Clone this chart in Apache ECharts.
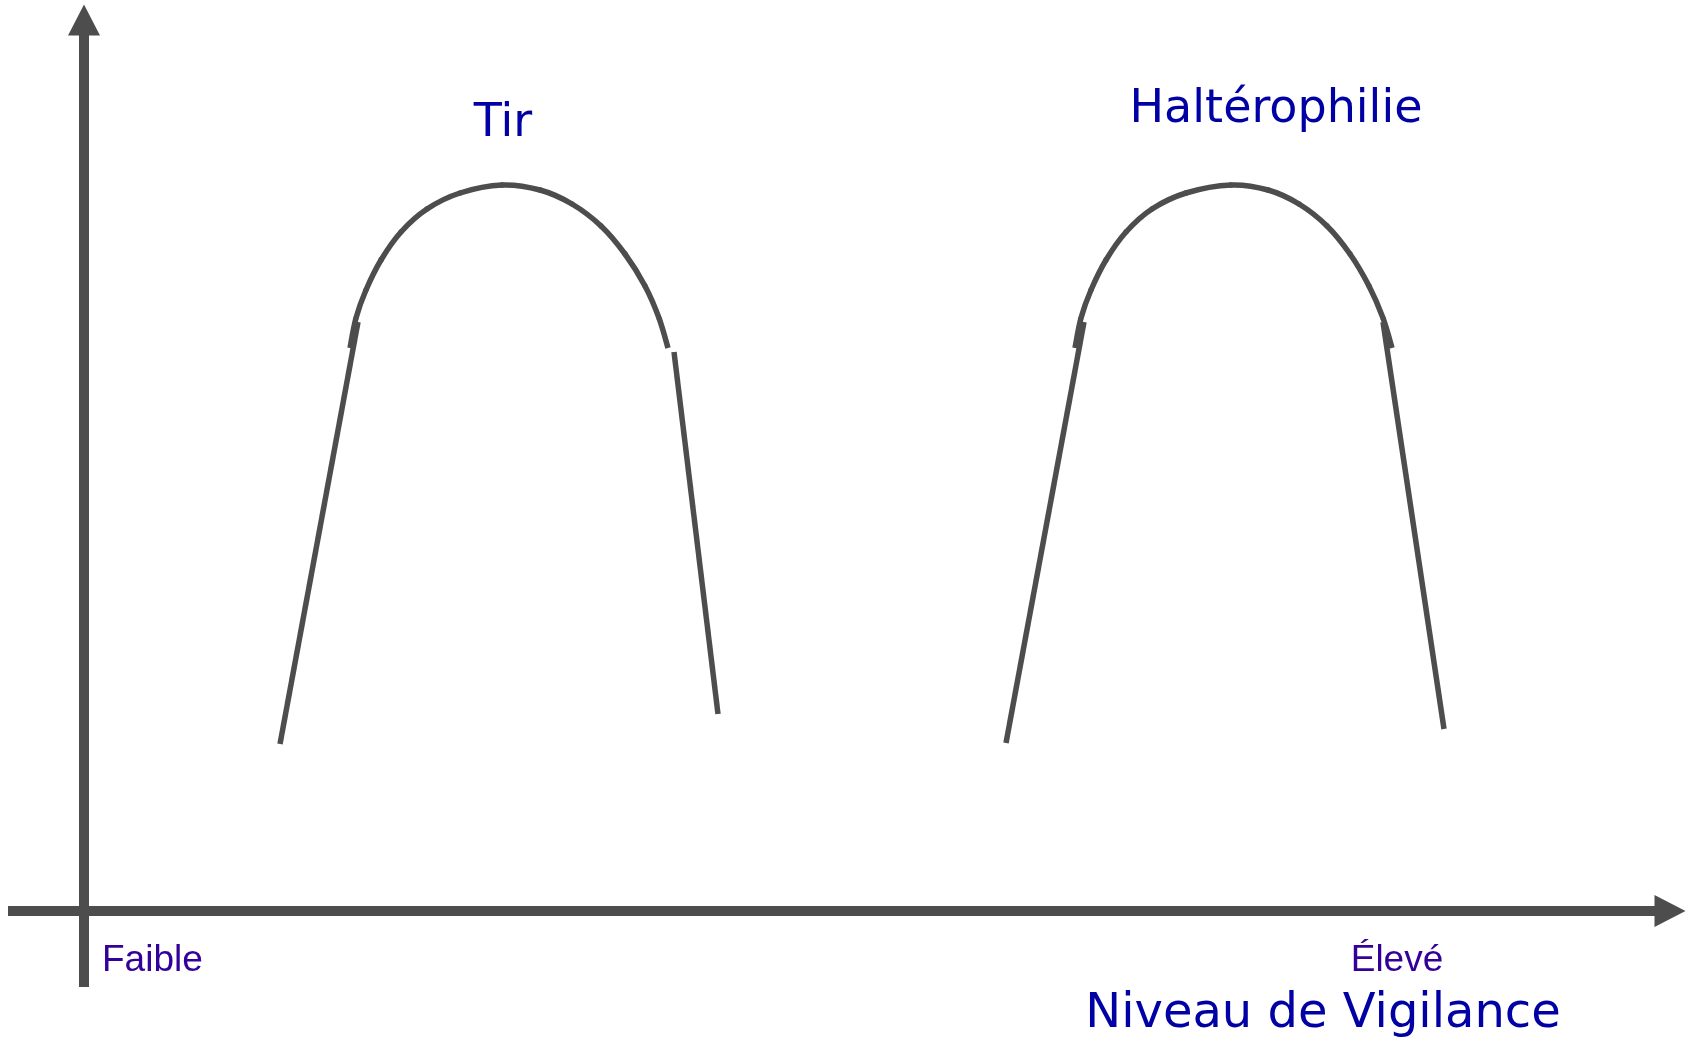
<!DOCTYPE html>
<html>
<head>
<meta charset="utf-8">
<title>Niveau de Vigilance</title>
<script src="https://cdn.jsdelivr.net/npm/echarts@6/dist/echarts.min.js"></script>
<style>
  html, body { margin: 0; padding: 0; background: #fff; }
  #chart1 { width: 1694px; height: 1038px; }
</style>
</head>
<body>
<div id="chart1"></div>
<script>
// axis units: origin is where the two axes cross
var xRange = [-76, 1586];
var yRange = [-76, 891];

var sports = ['Tir', 'Haltérophilie'];
var levels = ['Faible', 'Élevé'];
var axisTitle = 'Niveau de Vigilance';

// Tir
var tirRise = [[196, 167], [274, 589]];
var tirArc = [[266, 563], [272, 593], [282, 621], [297, 651], [317, 679], [343, 702], [376, 718], [418, 726],
  [456, 721], [488, 707], [517, 685], [541, 657], [561, 625], [575, 593], [584, 563]];
var tirFall = [[590, 559], [634, 197]];

// Haltérophilie
var halRise = [[922, 168], [1000, 589]];
var halArc = [[991, 563], [997, 593], [1007, 621], [1022, 651], [1042, 679], [1068, 702], [1102, 718], [1147, 726],
  [1184, 721], [1215, 707], [1243, 685], [1266, 657], [1285, 625], [1299, 593], [1308, 563]];
var halFall = [[1299, 589], [1360, 182]];

var grey = '#4d4d4d';
var blue = '#0000a5';
var purple = '#330099';

var chart1 = echarts.init(document.getElementById('chart1'));

function seg(name, data) {
  return {
    name: name,
    type: 'line',
    data: data,
    symbol: 'none',
    silent: true,
    lineStyle: { color: grey, width: 5.5, cap: 'butt' },
    z: 3
  };
}

// arcs: Catmull-Rom curve through the read points, as bezier pieces
function arc(name, data) {
  return {
    name: name,
    type: 'custom',
    data: data,
    silent: true,
    z: 3,
    renderItem: function (params, api) {
      if (params.dataIndex !== 0) return;
      var p = data.map(function (d) { return api.coord(d); });
      var n = p.length;
      var kids = [];
      for (var i = 0; i < n - 1; i++) {
        var p0 = p[Math.max(i - 1, 0)], p1 = p[i], p2 = p[i + 1], p3 = p[Math.min(i + 2, n - 1)];
        // flat cut at both outer ends, round inside so the joints close up
        var cap = (i === 0 || i === n - 2) ? 'butt' : 'round';
        kids.push({
          type: 'bezierCurve',
          shape: {
            x1: p1[0], y1: p1[1],
            cpx1: p1[0] + (p2[0] - p0[0]) / 6, cpy1: p1[1] + (p2[1] - p0[1]) / 6,
            cpx2: p2[0] - (p3[0] - p1[0]) / 6, cpy2: p2[1] - (p3[1] - p1[1]) / 6,
            x2: p2[0], y2: p2[1]
          },
          style: { stroke: grey, lineWidth: 5.5, fill: null, lineCap: cap }
        });
      }
      return { type: 'group', children: kids };
    }
  };
}

function label(text, x, y, size, family, color, align) {
  return {
    type: 'text',
    x: x,
    y: y,
    silent: true,
    style: {
      text: text,
      font: size + 'px ' + family,
      fill: color,
      textAlign: align,
      align: align,
      textVerticalAlign: 'middle',
      verticalAlign: 'middle'
    }
  };
}

var axisLine = {
  show: true,
  onZero: true,
  symbol: ['none', 'triangle'],
  symbolSize: [32, 31],
  lineStyle: { color: grey, width: 10, cap: 'butt' }
};

var option = {
  backgroundColor: '#ffffff',
  animation: false,
  grid: { left: 8, right: 24, top: 20, bottom: 51 },
  xAxis: {
    type: 'value',
    min: xRange[0],
    max: xRange[1],
    axisLine: axisLine,
    axisTick: { show: false },
    axisLabel: { show: false },
    splitLine: { show: false }
  },
  yAxis: {
    type: 'value',
    min: yRange[0],
    max: yRange[1],
    axisLine: axisLine,
    axisTick: { show: false },
    axisLabel: { show: false },
    splitLine: { show: false }
  },
  series: [
    seg(sports[0], tirRise),
    arc(sports[0], tirArc),
    seg(sports[0], tirFall),
    seg(sports[1], halRise),
    arc(sports[1], halArc),
    seg(sports[1], halFall)
  ],
  graphic: [
    label(sports[0], 503, 124, 46, '"DejaVu Sans", sans-serif', blue, 'center'),
    label(sports[1], 1276, 110, 46, '"DejaVu Sans", sans-serif', blue, 'center'),
    label(levels[0], 102, 961, 37, '"Liberation Sans", Arial, sans-serif', purple, 'left'),
    label(levels[1], 1397, 961, 37, '"Liberation Sans", Arial, sans-serif', purple, 'center'),
    label(axisTitle, 1323, 1015, 48, '"DejaVu Sans", sans-serif', blue, 'center')
  ]
};
// 绘制图表
chart1.setOption(option);
</script>
</body>
</html>
